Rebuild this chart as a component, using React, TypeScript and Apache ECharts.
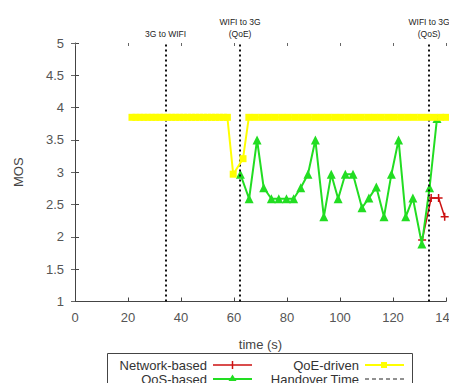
import React, { useEffect, useRef } from "react";
import * as echarts from "echarts";

// ---- data ----
const xTicksMax = 140;
const yMin = 1;
const yMax = 5;

const qoeTime = [21.5, 23, 24.5, 26, 27.5, 29, 30.5, 32, 33.5, 35, 36.5, 38, 39.5, 41, 42.5, 44, 45.5, 47, 48.5, 50, 51.5, 53, 54.5, 56, 57.5, 59.7, 63.4, 65.6, 68, 70.5, 73, 75.5, 78, 80.5, 83, 85.5, 88, 90.5, 93, 95.5, 98, 100.5, 103, 105.5, 108, 110.5, 113, 115.5, 118, 120.5, 123, 125.5, 128, 130.5, 133, 135.5, 138, 140];
const qoeMos = [3.85, 3.85, 3.85, 3.85, 3.85, 3.85, 3.85, 3.85, 3.85, 3.85, 3.85, 3.85, 3.85, 3.85, 3.85, 3.85, 3.85, 3.85, 3.85, 3.85, 3.85, 3.85, 3.85, 3.85, 3.85, 2.97, 3.21, 3.85, 3.85, 3.85, 3.85, 3.85, 3.85, 3.85, 3.85, 3.85, 3.85, 3.85, 3.85, 3.85, 3.85, 3.85, 3.85, 3.85, 3.85, 3.85, 3.85, 3.85, 3.85, 3.85, 3.85, 3.85, 3.85, 3.85, 3.85, 3.85, 3.85, 3.85];

const qosTime = [62.4, 65.7, 68.7, 71.2, 74.1, 76.9, 79.8, 82.5, 85.2, 87.9, 90.7, 93.9, 96.7, 99.3, 102, 104.9, 108.3, 110.9, 113.7, 116.6, 119.4, 122.1, 124.8, 127.5, 130.9, 133.8, 136.6];
const qosMos = [2.97, 2.59, 3.5, 2.76, 2.59, 2.59, 2.59, 2.59, 2.76, 2.97, 3.5, 2.31, 2.97, 2.59, 2.97, 2.97, 2.45, 2.6, 2.77, 2.31, 2.97, 3.5, 2.31, 2.6, 1.89, 2.76, 3.83];

const netTime = [131, 134.4, 137.2, 139.5];
const netMos = [1.95, 2.6, 2.6, 2.31];

const handoverTimes = [34.2, 62.3, 133.6];
const handoverLabels = ["3G to WIFI", "WIFI to 3G\n(QoE)", "WIFI to 3G\n(QoS)"];

const legendNames = ["Network-based", "QoS-based", "QoE-driven", "Handover Time"];

const RED = "#cc1111";
const GREEN = "#22dd22";
const YELLOW = "#ffff00";

const pair = (t: number[], v: number[]) => t.map((x, i) => [x, v[i]]);

export default function App() {
  const ref = useRef<HTMLDivElement>(null);
  useEffect(() => {
    const chart = echarts.init(ref.current!, null, { renderer: "svg" });
    const font = "Liberation Sans";
    const plusPath = "path://M0,5L10,5M5,0L5,10";
    chart.setOption({
      animation: false,
      backgroundColor: "#ffffff",
      textStyle: { fontFamily: font },
      grid: { left: 75, top: 43, width: 371, height: 258.5, containLabel: false, outerBoundsMode: "none" },
      xAxis: [
        {
          type: "value",
          min: 0,
          max: xTicksMax,
          interval: 20,
          name: "time (s)",
          nameLocation: "middle",
          nameGap: 36,
          nameTextStyle: { fontSize: 13, color: "#444", fontFamily: font },
          axisLine: { show: true, lineStyle: { color: "#444", width: 1 } },
          axisTick: { show: true, inside: true, length: 4, lineStyle: { color: "#444" } },
          axisLabel: { fontSize: 13, color: "#555", margin: 9, fontFamily: font },
          splitLine: { show: false },
        },
        {
          type: "value",
          position: "top",
          min: 0,
          max: xTicksMax,
          interval: 20,
          axisLine: { show: false },
          axisTick: { show: true, inside: true, length: 3, lineStyle: { color: "#666" } },
          axisLabel: { show: false },
          splitLine: { show: false },
        },
      ],
      yAxis: [
        {
          type: "value",
          min: yMin,
          max: yMax,
          interval: 0.5,
          name: "MOS",
          nameLocation: "middle",
          nameGap: 50,
          nameTextStyle: { fontSize: 13, color: "#444", fontFamily: font },
          axisLine: { show: true, lineStyle: { color: "#444", width: 1 } },
          axisTick: { show: true, inside: true, length: 4, lineStyle: { color: "#444" } },
          axisLabel: { fontSize: 13, color: "#555", margin: 11, fontFamily: font },
          splitLine: { show: false },
        },
        {
          type: "value",
          position: "right",
          min: yMin,
          max: yMax,
          interval: 0.5,
          axisLine: { show: false },
          axisTick: { show: true, inside: true, length: 4, lineStyle: { color: "#666" } },
          axisLabel: { show: false },
          splitLine: { show: false },
        },
      ],
      series: [
        {
          name: legendNames[0],
          type: "line",
          data: pair(netTime, netMos),
          symbol: plusPath,
          symbolSize: 8,
          itemStyle: { color: RED, borderColor: RED, borderWidth: 1.5 },
          lineStyle: { color: RED, width: 1.5 },
          z: 3,
        },
        {
          name: legendNames[1],
          type: "line",
          data: pair(qosTime, qosMos),
          symbol: "triangle",
          symbolSize: 9,
          itemStyle: { color: GREEN },
          lineStyle: { color: GREEN, width: 2 },
          z: 4,
        },
        {
          name: legendNames[2],
          type: "line",
          data: pair(qoeTime, qoeMos),
          symbol: "rect",
          symbolSize: 7,
          itemStyle: { color: YELLOW },
          lineStyle: { color: YELLOW, width: 2 },
          z: 5,
        },
        {
          name: legendNames[3],
          type: "line",
          data: [],
          z: 6,
          markLine: {
            silent: true,
            symbol: ["none", "none"],
            lineStyle: { color: "#111", width: 2, type: [2, 3] },
            label: {
              show: true,
              position: "end",
              distance: 3,
              fontSize: 8.5,
              lineHeight: 12,
              color: "#222",
              fontFamily: font,
              formatter: (p: any) => handoverLabels[p.dataIndex],
            },
            data: handoverTimes.map((t) => [
              { coord: [t, yMin] },
              { coord: [t, yMax] },
            ]),
          },
        },
      ],
      graphic: [
        {
          type: "rect",
          shape: { x: 107.5, y: 353.5, width: 305, height: 40 },
          style: { fill: "#fff", stroke: "#444", lineWidth: 1 },
          z: 10,
        },
        {
          type: "text",
          x: 207,
          y: 365,
          style: { text: legendNames[0], align: "right", verticalAlign: "middle", font: `13px ${font}`, fill: "#333" },
          z: 11,
        },
        { type: "line", shape: { x1: 213, y1: 365, x2: 252, y2: 365 }, style: { stroke: RED, lineWidth: 1.5 }, z: 11 },
        { type: "line", shape: { x1: 232.5, y1: 361, x2: 232.5, y2: 369 }, style: { stroke: RED, lineWidth: 1.5 }, z: 11 },
        {
          type: "text",
          x: 359,
          y: 365,
          style: { text: legendNames[2], align: "right", verticalAlign: "middle", font: `13px ${font}`, fill: "#333" },
          z: 11,
        },
        { type: "line", shape: { x1: 365, y1: 365, x2: 404, y2: 365 }, style: { stroke: YELLOW, lineWidth: 2 }, z: 11 },
        { type: "rect", shape: { x: 381, y: 362, width: 6, height: 6 }, style: { fill: YELLOW }, z: 12 },
        {
          type: "text",
          x: 207,
          y: 379,
          style: { text: legendNames[1], align: "right", verticalAlign: "middle", font: `13px ${font}`, fill: "#333" },
          z: 11,
        },
        { type: "line", shape: { x1: 213, y1: 379, x2: 252, y2: 379 }, style: { stroke: GREEN, lineWidth: 2 }, z: 11 },
        { type: "polygon", shape: { points: [[232.5, 374.5], [236.5, 381], [228.5, 381]] }, style: { fill: GREEN }, z: 12 },
        {
          type: "text",
          x: 359,
          y: 379,
          style: { text: legendNames[3], align: "right", verticalAlign: "middle", font: `13px ${font}`, fill: "#333" },
          z: 11,
        },
        { type: "line", shape: { x1: 365, y1: 379, x2: 404, y2: 379 }, style: { stroke: "#222", lineWidth: 1, lineDash: [4, 3] }, z: 11 },
      ],
    });
    return () => chart.dispose();
  }, []);
  return (
    <div
      ref={ref}
      style={{ position: "absolute", left: 0, top: 0, width: 449, height: 383, background: "#fff" }}
    />
  );
}
